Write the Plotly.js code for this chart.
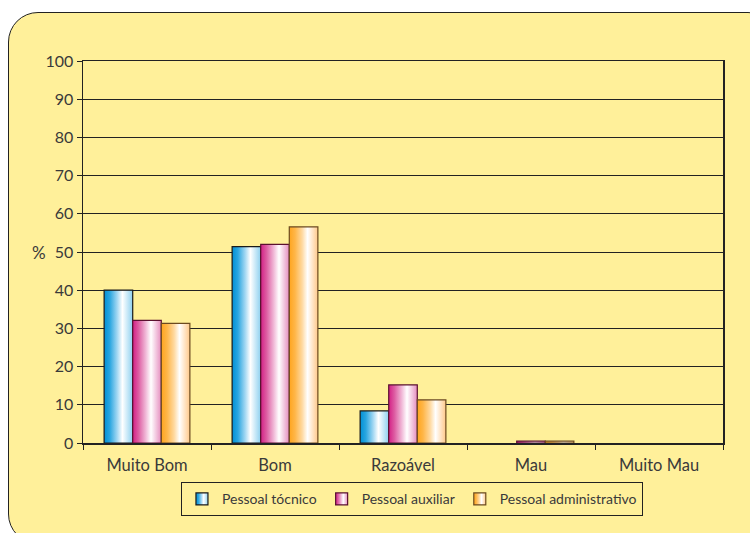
<!DOCTYPE html>
<html>
<head>
<meta charset="utf-8">
<script src="https://cdn.plot.ly/plotly-3.0.1.min.js"></script>
<style>
  html, body { margin: 0; padding: 0; background: #ffffff; overflow: hidden; }
  #card { position: absolute; left: 8px; top: 12px; width: 770px; height: 532px;
          background: #FFF09A; border: 1.5px solid #222; border-radius: 30px; box-sizing: border-box; }
  #chart { position: absolute; left: 0; top: 0; width: 750px; height: 533px; }
</style>
</head>
<body>
<div id="card"></div>
<div id="chart"></div>
<script>
const categories = ["Muito Bom", "Bom", "Razoável", "Mau", "Muito Mau"];
const seriesNames = ["Pessoal tócnico", "Pessoal auxiliar", "Pessoal administrativo"];
const tecnico = [40, 51.4, 8.4, 0, 0];
const auxiliar = [32.1, 52, 15.2, 0.5, 0];
const administrativo = [31.3, 56.6, 11.3, 0.5, 0];
const yTicks = [0, 10, 20, 30, 40, 50, 60, 70, 80, 90, 100];

const baseColors = ["#1BA3DB", "#D9479A", "#FFB44A"];
const gradStops = [
  ["#0090D6", "#2AA6E0", "#9FD6F2", "#FFFFFF", "#8ED0EF"],
  ["#D41F86", "#DD5CA2", "#F0B6D6", "#FFFFFF", "#E58DBE"],
  ["#FFA51E", "#FFB648", "#FFD9A0", "#FFFFFF", "#FFC98A"]
];
const gradOffsets = [0, 0.2, 0.45, 0.64, 1];
const lineColors = ["#1a1a1a", "#5a1030", "#6b4a20"];
const values = [tecnico, auxiliar, administrativo];

const traces = values.map((v, i) => ({
  type: "bar",
  name: seriesNames[i],
  x: categories,
  y: v,
  marker: { color: baseColors[i], line: { color: lineColors[i], width: v.map(d => d > 0 ? 1.2 : 0) } },
  hoverinfo: "x+y+name"
}));

const fam = "Lato, 'Open Sans', sans-serif";
const txt = "#3a3a3a";

const layout = {
  width: 750, height: 533,
  margin: { l: 83, r: 27, t: 61, b: 90 },
  paper_bgcolor: "rgba(0,0,0,0)",
  plot_bgcolor: "rgba(0,0,0,0)",
  font: { family: fam, color: txt, size: 15 },
  barmode: "group",
  bargap: 0.33,
  bargroupgap: 0,
  showlegend: true,
  legend: {
    orientation: "h", x: 0.514, xanchor: "center", y: -0.103, yanchor: "top",
    bgcolor: "#FFF09A", bordercolor: "#222", borderwidth: 1,
    font: { family: fam, color: txt, size: 14 },
    itemwidth: 30, tracegroupgap: 0
  },
  xaxis: {
    type: "category",
    tickson: "boundaries",
    ticks: "outside", ticklen: 5, tickcolor: "#222",
    ticklabelstandoff: 7,
    showline: true, linecolor: "#222", linewidth: 1.5, mirror: true,
    showgrid: false,
    tickfont: { family: fam, color: txt, size: 16.5 },
    fixedrange: true
  },
  yaxis: {
    range: [0, 100],
    tickvals: yTicks,
    ticktext: yTicks.map(String),
    ticks: "outside", ticklen: 5, tickcolor: "#222",
    showline: true, linecolor: "#222", linewidth: 1.5, mirror: true,
    showgrid: true, gridcolor: "#222", gridwidth: 1,
    zeroline: false,
    tickfont: { family: fam, color: txt, size: 16 },
    fixedrange: true
  },
  annotations: [{
    text: "%", xref: "paper", yref: "paper", x: -0.055, y: 0.5,
    xanchor: "right", yanchor: "middle", showarrow: false,
    font: { family: fam, color: txt, size: 17 }
  }]
};

function applyGradients() {
  const svg = document.querySelector("#chart .main-svg");
  if (!svg) return;
  const ns = "http://www.w3.org/2000/svg";
  let defs = svg.querySelector("defs");
  if (!defs) { defs = document.createElementNS(ns, "defs"); svg.insertBefore(defs, svg.firstChild); }
  gradStops.forEach((stops, i) => {
    const g = document.createElementNS(ns, "linearGradient");
    g.setAttribute("id", "bargrad" + i);
    g.setAttribute("x1", "0"); g.setAttribute("y1", "0");
    g.setAttribute("x2", "1"); g.setAttribute("y2", "0");
    stops.forEach((c, k) => {
      const s = document.createElementNS(ns, "stop");
      s.setAttribute("offset", gradOffsets[k]);
      s.setAttribute("stop-color", c);
      g.appendChild(s);
    });
    defs.appendChild(g);
  });
  document.querySelectorAll("#chart .barlayer .trace").forEach((tg, i) => {
    tg.querySelectorAll("path").forEach(p => { p.style.fill = "url(#bargrad" + i + ")"; });
  });
  document.querySelectorAll("#chart .legend .traces").forEach((lt, i) => {
    lt.querySelectorAll(".legendpoints path").forEach(p => { p.style.fill = "url(#bargrad" + i + ")"; });
  });
}

Plotly.newPlot("chart", traces, layout, { displayModeBar: false, staticPlot: true }).then(applyGradients);
</script>
</body>
</html>
